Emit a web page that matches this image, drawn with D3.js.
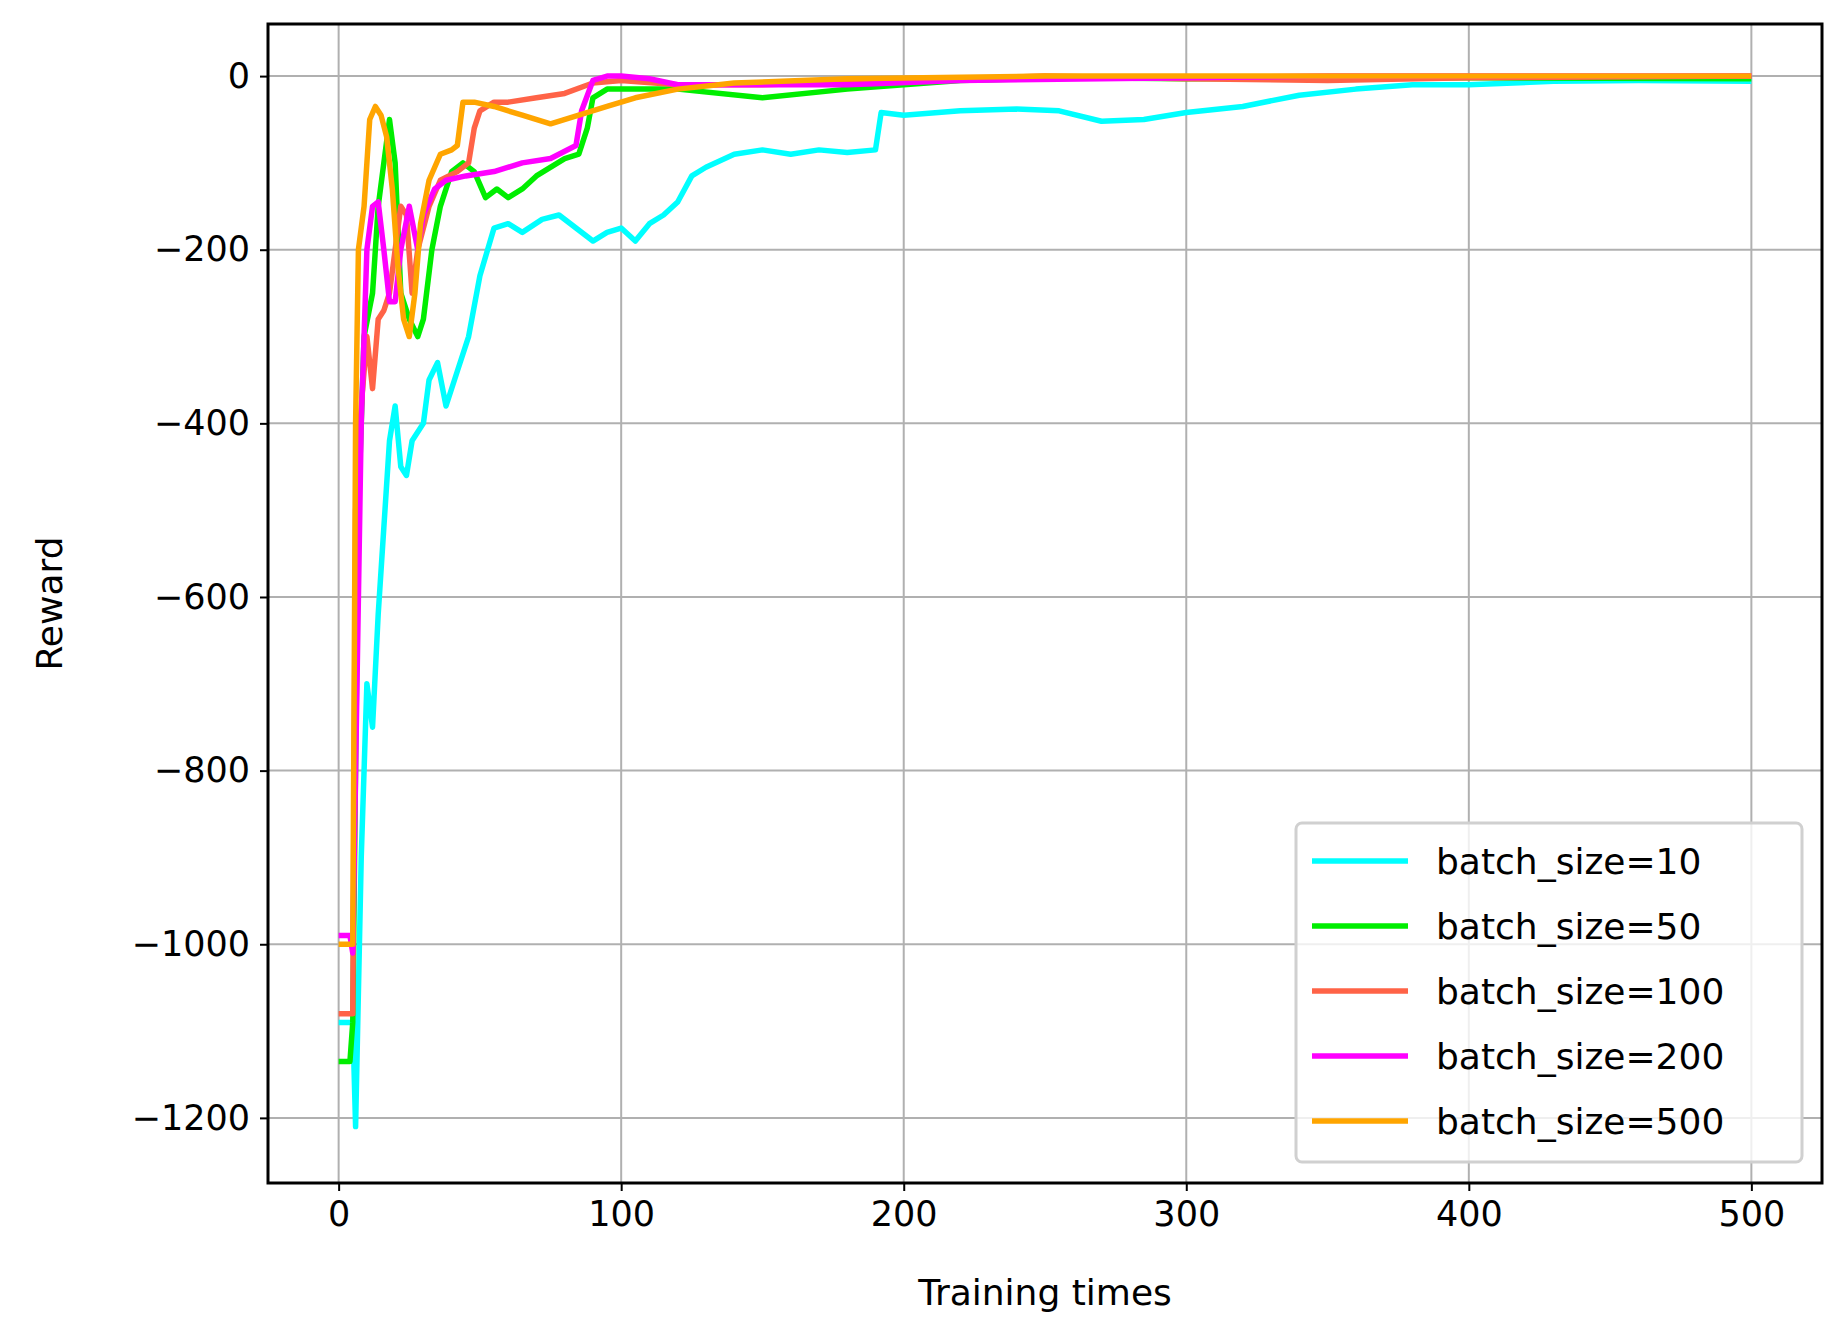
<!DOCTYPE html>
<html>
<head>
<meta charset="utf-8">
<script src="https://cdn.jsdelivr.net/npm/d3@7"></script>
<style>
  body { margin: 0; background: #fff; }
  text { font-family: "DejaVu Sans", sans-serif; }
</style>
</head>
<body>
<svg id="chart" width="1844" height="1328"></svg>
<script>
var seriesNames = ['batch_size=10', 'batch_size=50', 'batch_size=100', 'batch_size=200', 'batch_size=500']
var seriesColors = ['#00ffff', '#00ee00', '#ff6347', '#ff00ff', '#ffa500']
var xTicks = [0, 100, 200, 300, 400, 500]
var yTicks = [0, -200, -400, -600, -800, -1000, -1200]

var batch10 = [[0,-1090],[5,-1090],[6,-1210],[8,-900],[10,-700],[12,-750],[14,-620],[16,-520],[18,-420],
  [20,-380],[22,-450],[24,-460],[26,-420],[30,-400],[32,-350],[35,-330],[38,-380],[42,-340],[46,-300],
  [50,-230],[55,-175],[60,-170],[65,-180],[72,-165],[78,-160],[84,-175],[90,-190],[95,-180],[100,-175],
  [105,-190],[110,-170],[115,-160],[120,-145],[125,-115],[130,-105],[140,-90],[150,-85],[160,-90],
  [170,-85],[180,-88],[190,-85],[192,-42],[200,-45],[220,-40],[240,-38],[255,-40],[270,-52],[285,-50],
  [300,-42],[320,-35],[340,-22],[360,-15],[380,-10],[400,-10],[430,-6],[460,-5],[500,-6]]
var batch50 = [[0,-1135],[4,-1135],[5,-1090],[7,-500],[9,-300],[12,-250],[14,-150],[16,-100],[18,-50],
  [20,-100],[22,-250],[25,-280],[28,-300],[30,-280],[33,-200],[36,-150],[40,-110],[44,-100],[48,-110],
  [52,-140],[56,-130],[60,-140],[65,-130],[70,-115],[80,-95],[85,-90],[88,-60],[90,-25],[95,-15],
  [100,-15],[120,-15],[150,-25],[180,-15],[220,-5],[260,-2],[300,-3],[350,-2],[400,-2],[500,-3]]
var batch100 = [[0,-1080],[5,-1080],[6,-500],[8,-380],[10,-300],[12,-360],[14,-280],[16,-270],[18,-250],
  [20,-200],[22,-150],[24,-160],[26,-250],[28,-200],[32,-150],[36,-120],[42,-110],[46,-100],[48,-60],
  [50,-40],[55,-30],[60,-30],[70,-25],[80,-20],[90,-8],[100,-5],[120,-10],[150,-10],[200,-5],[250,0],
  [300,-3],[350,-5],[400,-2],[500,0]]
var batch200 = [[0,-990],[4,-990],[5,-1010],[6,-800],[8,-400],[10,-200],[12,-150],[14,-145],[16,-200],
  [18,-260],[20,-260],[22,-200],[25,-150],[28,-200],[30,-160],[34,-130],[38,-120],[45,-115],[55,-110],
  [65,-100],[75,-95],[84,-80],[86,-40],[90,-5],[95,0],[100,0],[110,-3],[120,-10],[140,-10],[180,-10],
  [220,-5],[300,-2],[350,0],[400,0],[500,0]]
var batch500 = [[0,-1000],[5,-1000],[6,-400],[7,-200],[9,-150],[11,-50],[13,-35],[15,-45],[17,-70],
  [19,-130],[21,-220],[23,-280],[25,-300],[27,-250],[29,-170],[32,-120],[36,-90],[40,-85],[42,-80],
  [44,-30],[48,-30],[55,-35],[65,-45],[75,-55],[85,-45],[95,-35],[105,-25],[120,-15],[140,-8],
  [180,-3],[250,0],[500,0]]
var seriesData = [batch10, batch50, batch100, batch200, batch500]

var svg = d3.select('#chart')
var pLeft = 268, pRight = 1822, pTop = 24, pBottom = 1183

var x = d3.scaleLinear().domain([-25, 525]).range([pLeft, pRight])
var y = d3.scaleLinear().domain([-1275, 60]).range([pBottom, pTop])

// grid
svg.append('g').selectAll('line').data(xTicks).enter().append('line')
  .attr('x1', d => x(d)).attr('x2', d => x(d)).attr('y1', pTop).attr('y2', pBottom)
  .attr('stroke', '#b0b0b0').attr('stroke-width', 2)
svg.append('g').selectAll('line').data(yTicks).enter().append('line')
  .attr('y1', d => y(d)).attr('y2', d => y(d)).attr('x1', pLeft).attr('x2', pRight)
  .attr('stroke', '#b0b0b0').attr('stroke-width', 2)

// lines
var line = d3.line().x(d => x(d[0])).y(d => y(d[1])).curve(d3.curveLinear)
seriesData.forEach(function(pts, i) {
  svg.append('path').attr('d', line(pts)).attr('fill', 'none')
    .attr('stroke', seriesColors[i]).attr('stroke-width', 5.5).attr('stroke-linejoin', 'round')
})

// axes
var xAxis = svg.append('g').attr('transform', 'translate(0,' + pBottom + ')')
  .call(d3.axisBottom(x).tickValues(xTicks).tickSize(8).tickPadding(10))
var yAxis = svg.append('g').attr('transform', 'translate(' + pLeft + ',0)')
  .call(d3.axisLeft(y).tickValues(yTicks).tickSize(8).tickPadding(10)
    .tickFormat(d => d < 0 ? '\u2212' + Math.abs(d) : d))
;[xAxis, yAxis].forEach(function(a) {
  a.select('.domain').remove()
  a.selectAll('line').attr('stroke', '#000').attr('stroke-width', 2)
  a.selectAll('text').attr('font-size', 35).attr('fill', '#000').attr('font-family', 'DejaVu Sans')
})

svg.append('rect').attr('x', pLeft).attr('y', pTop).attr('width', pRight - pLeft).attr('height', pBottom - pTop)
  .attr('fill', 'none').attr('stroke', '#000').attr('stroke-width', 3)

svg.append('text').attr('x', (pLeft + pRight) / 2).attr('y', 1305).attr('text-anchor', 'middle')
  .attr('font-size', 36).text('Training times')
svg.append('text').attr('transform', 'translate(62,' + ((pTop + pBottom) / 2) + ') rotate(-90)')
  .attr('text-anchor', 'middle').attr('font-size', 36).text('Reward')

// legend
var lg = svg.append('g').attr('transform', 'translate(1296,823)')
lg.append('rect').attr('width', 506).attr('height', 339).attr('rx', 6)
  .attr('fill', '#fff').attr('fill-opacity', 0.8).attr('stroke', '#d0d0d0').attr('stroke-width', 3)
seriesNames.forEach(function(name, i) {
  var cy = 38 + i * 65
  lg.append('line').attr('x1', 16).attr('x2', 112).attr('y1', cy).attr('y2', cy)
    .attr('stroke', seriesColors[i]).attr('stroke-width', 5.5)
  lg.append('text').attr('x', 140).attr('y', cy).attr('dy', '0.35em')
    .attr('font-size', 36).text(name)
})
</script>
</body>
</html>
